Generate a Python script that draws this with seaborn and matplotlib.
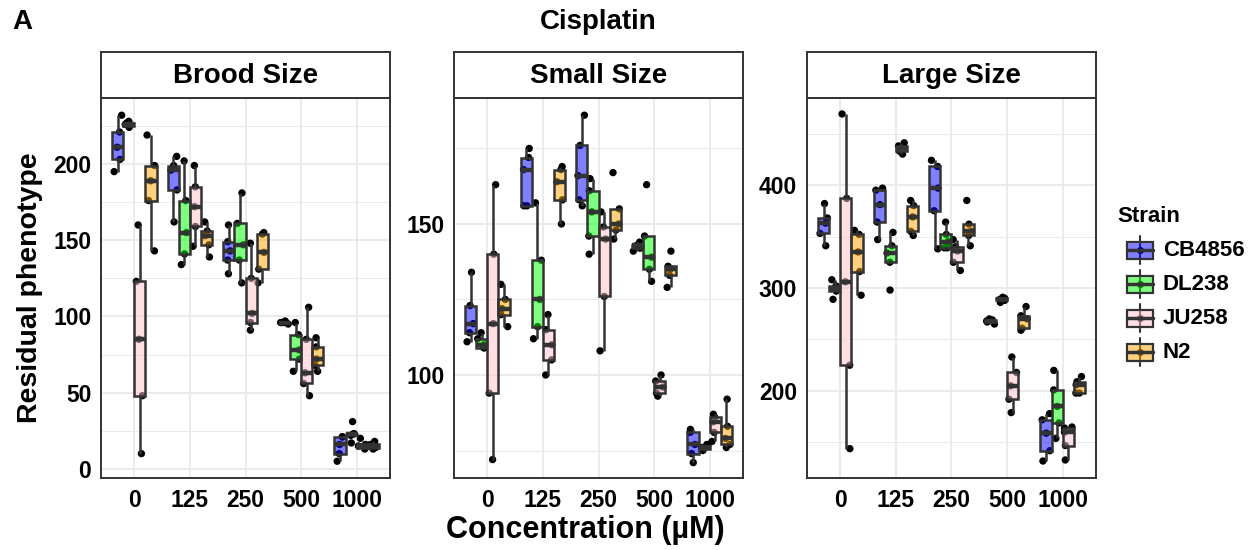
import numpy as np
import pandas as pd
import seaborn as sns
import matplotlib.pyplot as plt
from matplotlib.ticker import MultipleLocator
from matplotlib.patches import Rectangle
from matplotlib.lines import Line2D

concs = ["0", "125", "250", "500", "1000"]
strains = ["CB4856", "DL238", "JU258", "N2"]
colors = ["#0000FF", "#00FF00", "#FFC0CB", "#FFA500"]
traits = ["Brood Size", "Small Size", "Large Size"]

# replicate values, one list per concentration
brood_cb4856 = [[195, 203, 211, 221, 232], [162, 183, 196, 199, 205], [128, 137, 143, 149, 160],
                [95, 96, 96, 96, 97], [5, 10, 16, 21, 21]]
brood_dl238 = [[224, 225, 226, 227, 228], [134, 141, 155, 176, 202], [122, 137, 147, 161, 181],
               [64, 72, 78, 88, 96], [17, 22, 23, 23, 31]]
brood_ju258 = [[10, 48, 85, 123, 160], [146, 159, 172, 185, 199], [91, 96, 102, 125, 148],
               [48, 56, 63, 85, 106], [13, 14, 15, 16, 20]]
brood_n2 = [[143, 176, 189, 199, 219], [139, 147, 153, 156, 162], [122, 131, 142, 154, 155],
            [64, 68, 72, 80, 86], [13, 14, 15, 16, 18]]

small_cb4856 = [[111, 114, 117, 123, 134], [156, 156, 168, 172, 175], [156, 158, 166, 176, 186],
                [141, 142, 143, 143, 144], [71, 74, 77, 81, 82]]
small_dl238 = [[109, 109, 110, 112, 114], [112, 116, 125, 138, 157], [140, 146, 154, 161, 165],
               [131, 135, 139, 146, 163], [75, 75.5, 76, 76.5, 77]]
small_ju258 = [[72, 94, 117, 140, 163], [100, 105, 110, 115, 120], [108, 126, 145, 149, 154],
               [93, 94, 96, 98, 100], [78, 81, 84.5, 86, 87]]
small_n2 = [[116, 120, 122, 125, 130], [150, 158, 164, 168, 169], [145, 148, 150, 155, 167],
            [129, 133, 135, 136, 141], [76, 77, 79, 83, 92]]

large_cb4856 = [[341, 353, 363, 368, 382], [347, 364, 381, 395, 397], [338, 375, 397, 418, 424],
                [265, 267, 268, 269, 270], [132, 142, 159, 172, 178]]
large_dl238 = [[289, 297, 299, 302, 308], [298, 325, 334, 341, 354], [339, 339, 345, 352, 364],
               [286, 288, 289, 290, 291], [154, 169, 185, 201, 220]]
large_ju258 = [[144, 225, 306, 387, 469], [430, 433, 436, 438, 441], [317, 325, 336, 340, 347],
               [179, 192, 205, 218, 233], [133, 147, 160, 164, 165]]
large_n2 = [[293, 316, 335, 352, 356], [351, 355, 369, 380, 385], [341, 351, 355, 362, 385],
            [259, 261, 270, 273, 282], [198, 198, 206, 209, 214]]

panel_data = {
    "Brood Size": [brood_cb4856, brood_dl238, brood_ju258, brood_n2],
    "Small Size": [small_cb4856, small_dl238, small_ju258, small_n2],
    "Large Size": [large_cb4856, large_dl238, large_ju258, large_n2],
}
ylims = {"Brood Size": (-6, 243.3), "Small Size": (65.9, 191.7), "Large Size": (115.5, 484.5)}
major_step = {"Brood Size": 50, "Small Size": 50, "Large Size": 100}

rows = []
for trait in traits:
    for strain, vals in zip(strains, panel_data[trait]):
        for conc, reps in zip(concs, vals):
            for v in reps:
                rows.append({"trait": trait, "strain": strain, "conc": conc, "value": v})
df = pd.DataFrame(rows)

sns.set_style("white")
plt.rcParams["font.family"] = ["Liberation Sans", "DejaVu Sans"]
plt.rcParams["font.weight"] = "bold"
plt.rcParams["text.color"] = "black"

np.random.seed(7)
W, H = 1260, 550
fig = plt.figure(figsize=(12.6, 5.5), dpi=100)

def fx(px):
    return px / W

def fy(py):
    return 1 - py / H

lefts = [101, 454, 807]
pw = 289
top, bottom = 98, 478
strip_top = 52

for left, trait in zip(lefts, traits):
    sub = df[df.trait == trait]
    ax = fig.add_axes([fx(left), fy(bottom), pw / W, (bottom - top) / H])
    sns.stripplot(data=sub, x="conc", y="value", hue="strain", order=concs, hue_order=strains,
                  palette=["black"] * 4, dodge=True, jitter=0.3, size=5.3, legend=False,
                  ax=ax, zorder=2)
    sns.boxplot(data=sub, x="conc", y="value", hue="strain", order=concs, hue_order=strains,
                palette=colors, saturation=1, width=0.8, gap=0, showfliers=False, showcaps=False,
                linecolor="#333333", linewidth=1.8, medianprops=dict(linewidth=3.2),
                legend=False, ax=ax)
    for p in ax.patches:
        fc = p.get_facecolor()
        p.set_facecolor((fc[0], fc[1], fc[2], 0.5))
        p.set_zorder(3)
    for ln in ax.lines:
        ln.set_zorder(3.5)

    ax.set_xlim(-0.6, 4.6)
    ax.set_ylim(*ylims[trait])
    ax.yaxis.set_major_locator(MultipleLocator(major_step[trait]))
    ax.yaxis.set_minor_locator(MultipleLocator(major_step[trait] / 2))
    ax.set_axisbelow(True)
    ax.grid(which="major", color="#EBEBEB", lw=1.4)
    ax.grid(which="minor", axis="y", color="#EBEBEB", lw=0.7)
    ax.tick_params(which="major", length=4, width=1.2, color="#333333", labelsize=16.5,
                   labelcolor="black")
    ax.tick_params(axis="y", pad=3)
    ax.tick_params(axis="x", pad=4)
    ax.tick_params(which="minor", length=0)
    ax.set_xlabel("")
    ax.set_ylabel("")
    for s in ax.spines.values():
        s.set_color("#333333")
        s.set_linewidth(1.4)

    sax = fig.add_axes([fx(left), fy(top), pw / W, (top - strip_top) / H])
    sax.set_xticks([])
    sax.set_yticks([])
    for s in sax.spines.values():
        s.set_color("#333333")
        s.set_linewidth(1.4)
    sax.text(0.5, 0.48, trait, ha="center", va="center", fontsize=20, fontweight="bold",
             color="black", transform=sax.transAxes)

fig.text(fx(22), fy(22), "A", ha="center", va="center", fontsize=20, fontweight="bold")
fig.text(fx(598), fy(22), "Cisplatin", ha="center", va="center", fontsize=20, fontweight="bold")
fig.text(fx(585), fy(530), "Concentration (µM)", ha="center", va="center", fontsize=22,
         fontweight="bold")
fig.text(fx(30), fy(288), "Residual phenotype", ha="center", va="center", rotation=90,
         fontsize=20.5, fontweight="bold")

# legend drawn in pixel coordinates
lax = fig.add_axes([fx(1105), fy(370), 155 / W, 180 / H])
lax.set_xlim(1105, 1260)
lax.set_ylim(370, 190)
lax.axis("off")
lax.text(1117, 216, "Strain", ha="left", va="center", fontsize=16, fontweight="bold")
for i, (strain, col) in enumerate(zip(strains, colors)):
    yc = 250 + i * 34
    lax.add_line(Line2D([1140, 1140], [yc - 14, yc + 14], color="#333333", lw=1.5, zorder=1))
    lax.plot([1140], [yc], "o", color="black", ms=4, zorder=2)
    lax.add_patch(Rectangle((1127, yc - 8.5), 26, 17, facecolor=col, alpha=0.5, zorder=3))
    lax.add_patch(Rectangle((1127, yc - 8.5), 26, 17, facecolor="none", edgecolor="#333333",
                            lw=1.6, zorder=4))
    lax.add_line(Line2D([1127, 1153], [yc, yc], color="#333333", lw=2.5, zorder=4))
    lax.text(1163, yc, strain, ha="left", va="center", fontsize=16, fontweight="bold")

fig.savefig("out.png", dpi=100)
